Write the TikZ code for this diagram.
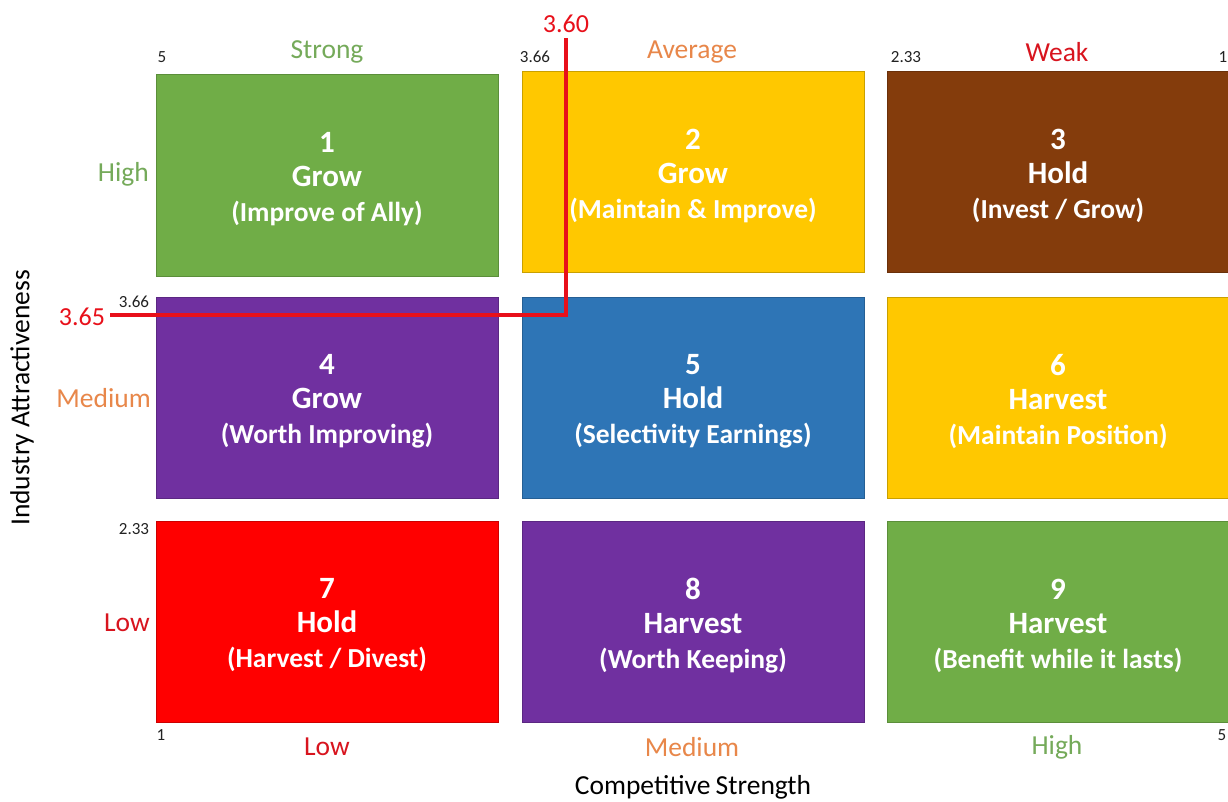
\documentclass[tikz,border=0pt]{standalone}
\usepackage{fontspec}
\setmainfont{Carlito}
\definecolor{cgreen}{HTML}{70AD47}
\definecolor{cgreenb}{HTML}{5B8E3A}
\definecolor{cyellow}{HTML}{FFC800}
\definecolor{cyellowb}{HTML}{C9A000}
\definecolor{cbrown}{HTML}{843C0C}
\definecolor{cbrownb}{HTML}{6A300A}
\definecolor{cpurple}{HTML}{7030A0}
\definecolor{cpurpleb}{HTML}{5B2782}
\definecolor{cblue}{HTML}{2E75B6}
\definecolor{cblueb}{HTML}{255F94}
\definecolor{cred}{HTML}{FF0000}
\definecolor{credb}{HTML}{CC0000}
\definecolor{tgreen}{HTML}{75AA5A}
\definecolor{torange}{HTML}{E8874A}
\definecolor{tred}{HTML}{D8141E}
\definecolor{lred}{HTML}{E8101A}
\definecolor{tdark}{HTML}{222222}
\begin{document}
\begin{tikzpicture}[x=1pt,y=-1pt,
  cell/.style={rectangle,inner sep=0pt,minimum width=342pt,line width=0.8pt},
  celltext/.style={text=white,align=center,inner sep=0pt,font=\bfseries\fontsize{31}{36}\selectfont},
  small/.style={text=tdark,inner sep=0pt,font=\fontsize{17}{20}\selectfont},
  lvl/.style={inner sep=0pt,font=\fontsize{27.5}{32}\selectfont},
  axis/.style={text=black,inner sep=0pt,font=\fontsize{27.5}{32}\selectfont},
  redval/.style={text=lred,inner sep=0pt,font=\fontsize{26}{30}\selectfont},
  redline/.style={draw=lred,line width=4pt}]
\useasboundingbox (0,0) rectangle (1228,801);
\fill[white] (0,0) rectangle (1228,801);
% cells
\node[cell,minimum height=202pt,fill=cgreen,draw=cgreenb] (b1) at (327,175) {};
\node[cell,minimum height=201pt,fill=cyellow,draw=cyellowb] (b2) at (693,171.5) {};
\node[cell,minimum height=201pt,fill=cbrown,draw=cbrownb] (b3) at (1058,171.5) {};
\node[cell,minimum height=201pt,fill=cpurple,draw=cpurpleb] (b4) at (327,397.5) {};
\node[cell,minimum height=201pt,fill=cblue,draw=cblueb] (b5) at (693,397.5) {};
\node[cell,minimum height=201pt,fill=cyellow,draw=cyellowb] (b6) at (1058,397.5) {};
\node[cell,minimum height=201pt,fill=cred,draw=credb] (b7) at (327,621.5) {};
\node[cell,minimum height=201pt,fill=cpurple,draw=cpurpleb] (b8) at (693,621.5) {};
\node[cell,minimum height=201pt,fill=cgreen,draw=cgreenb] (b9) at (1058,621.5) {};
% cell texts
\newcommand{\celltxt}[3]{#1\\[-2pt]#2\\[-1pt]{\fontsize{27.5}{35}\selectfont #3}}
\node[celltext] (t1) at ([yshift=-4pt]b1.center) {\celltxt{1}{Grow}{(Improve of Ally)}};
\node[celltext] (t2) at ([yshift=-4pt]b2.center) {\celltxt{2}{Grow}{(Maintain \& Improve)}};
\node[celltext] (t3) at ([yshift=-4pt]b3.center) {\celltxt{3}{Hold}{(Invest / Grow)}};
\node[celltext] (t4) at ([yshift=-4pt]b4.center) {\celltxt{4}{Grow}{(Worth Improving)}};
\node[celltext] (t5) at ([yshift=-4pt]b5.center) {\celltxt{5}{Hold}{(Selectivity Earnings)}};
\node[celltext] (t6) at ([yshift=-4pt]b6.center) {\celltxt{6}{Harvest}{(Maintain Position)}};
\node[celltext] (t7) at ([yshift=-4pt]b7.center) {\celltxt{7}{Hold}{(Harvest / Divest)}};
\node[celltext] (t8) at ([yshift=-4pt]b8.center) {\celltxt{8}{Harvest}{(Worth Keeping)}};
\node[celltext] (t9) at ([yshift=-4pt]b9.center) {\celltxt{9}{Harvest}{(Benefit while it lasts)}};
% top scale numbers
\node[small] (n5t) at (162,57) {5};
\node[small] (n366t) at (535,57) {3.66};
\node[small] (n233t) at (906,57) {2.33};
\node[small] (n1t) at (1223,57) {1};
% column headings
\node[lvl,text=tgreen] (hstrong) at (327,52) {Strong};
\node[lvl,text=torange] (haverage) at (692,52) {Average};
\node[lvl,text=tred] (hweak) at (1057,52) {Weak};
% row headings
\node[lvl,text=tgreen,anchor=east] (hhigh) at (149,174) {High};
\node[lvl,text=torange,anchor=east] (hmedium) at (151,398) {Medium};
\node[lvl,text=tred,anchor=east] (hlow) at (150,623) {Low};
% side scale numbers
\node[small] (n366l) at (134,302) {3.66};
\node[small] (n233l) at (134,529) {2.33};
\node[small] (n1b) at (161,735) {1};
\node[small] (n5b) at (1222,735) {5};
% bottom headings
\node[lvl,text=tred] (blow) at (327,747) {Low};
\node[lvl,text=torange] (bmedium) at (692,747) {Medium};
\node[lvl,text=tgreen] (bhigh) at (1057,747) {High};
% axis titles
\node[axis] (xaxis) at (693,787) {Competitive\kern-1pt\ Strength};
\node[axis,rotate=90] (yaxis) at (22,398) {Industry Attractiveness};
% red marker
\node[redval] (v360) at (566,24) {3.60};
\node[redval] (v365) at (82,317) {3.65};
\coordinate (ltop) at (566,38);
\coordinate (lcorner) at (566,314.5);
\coordinate (lend) at (110,314.5);
\draw[redline] (ltop) -- (lcorner) -- (lend);
\end{tikzpicture}
\end{document}
